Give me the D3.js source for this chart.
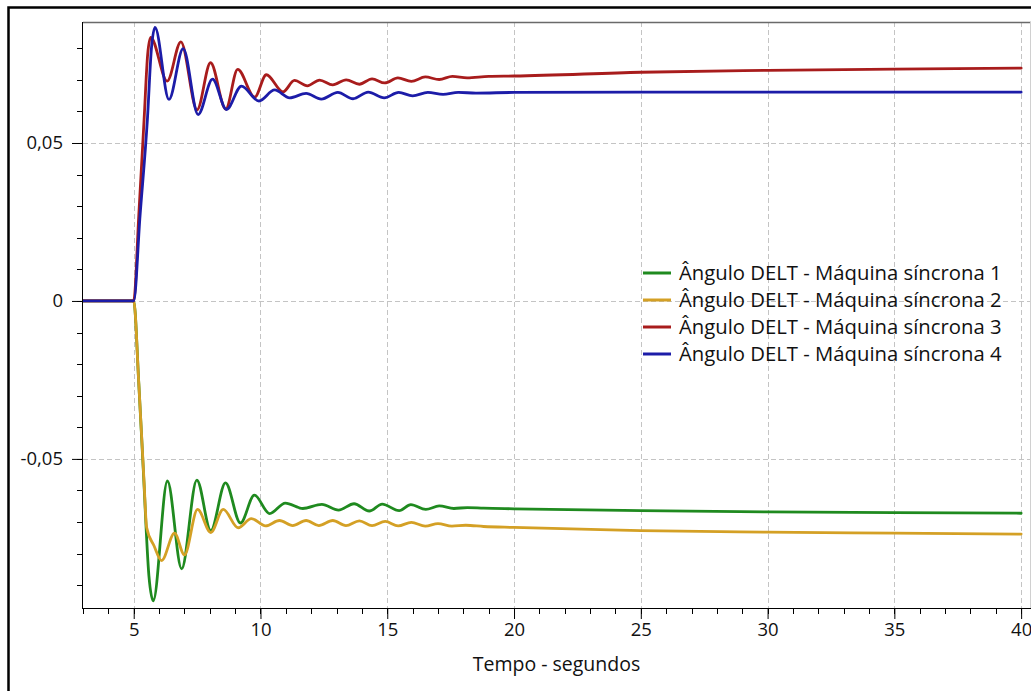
<!DOCTYPE html>
<html><head><meta charset="utf-8">
<script src="https://cdn.jsdelivr.net/npm/d3@7"></script>
<style>
html,body{margin:0;padding:0;background:#fff;}
svg{display:block;}
text{font-family:"Open Sans","Noto Sans",sans-serif;fill:#111;}
</style></head>
<body>
<svg id="chart" width="1031" height="691"></svg>
<script>
// ---------- DATA ----------
const xTickValues = [5, 10, 15, 20, 25, 30, 35, 40];
const xTickLabels = ["5", "10", "15", "20", "25", "30", "35", "40"];
const yTickValues = [-0.05, 0, 0.05];
const yTickLabels = ["-0,05", "0", "0,05"];
const xLabel = "Tempo - segundos";
const seriesNames = [
  "Ângulo DELT - Máquina síncrona 1",
  "Ângulo DELT - Máquina síncrona 2",
  "Ângulo DELT - Máquina síncrona 3",
  "Ângulo DELT - Máquina síncrona 4"
];
const seriesColors = ["#1f8a1f", "#d4a025", "#a81c1c", "#1c1ca8"];

// Máquina síncrona 1 (green)
const tMaq1 = [3, 5, 5.2, 5.38, 5.6, 5.77, 6.33, 6.89, 7.49, 8.04, 8.62, 9.21, 9.76, 10.36, 10.98, 11.67, 12.42, 13.08, 13.69, 14.29, 14.8, 15.47, 15.93, 16.52, 17.05, 17.63, 18.16, 18.8, 20, 25, 30, 35, 40];
const vMaq1 = [0, 0, -0.026, -0.0537, -0.087, -0.0949, -0.0570, -0.0848, -0.0567, -0.0727, -0.0576, -0.0703, -0.0615, -0.0673, -0.0640, -0.0657, -0.0644, -0.0662, -0.0642, -0.0665, -0.0643, -0.0664, -0.0645, -0.0660, -0.0649, -0.0657, -0.0654, -0.0656, -0.0658, -0.0664, -0.0668, -0.0670, -0.0672];

// Máquina síncrona 2 (gold)
const tMaq2 = [3, 5, 5.2, 5.4, 5.51, 5.8, 6.10, 6.61, 7.0, 7.52, 8.04, 8.53, 9.12, 9.64, 10.2, 10.75, 11.27, 11.8, 12.3, 12.85, 13.37, 13.9, 14.4, 14.92, 15.43, 15.95, 16.5, 17.0, 17.55, 18.1, 18.8, 20, 23.4, 25, 30, 35, 40];
const vMaq2 = [0, 0, -0.026, -0.056, -0.0717, -0.0775, -0.0822, -0.0735, -0.0804, -0.0660, -0.0733, -0.0660, -0.0718, -0.0689, -0.0712, -0.0695, -0.0711, -0.0695, -0.0711, -0.0695, -0.0711, -0.0696, -0.0711, -0.0698, -0.0712, -0.0701, -0.0713, -0.0705, -0.0713, -0.0710, -0.0714, -0.0717, -0.0724, -0.0727, -0.0732, -0.0735, -0.0738];

// Máquina síncrona 3 (red)
const tMaq3 = [3, 5, 5.2, 5.41, 5.55, 5.67, 6.32, 6.86, 7.5, 8.03, 8.63, 9.1, 9.77, 10.23, 10.89, 11.34, 11.85, 12.33, 12.85, 13.38, 13.9, 14.4, 14.9, 15.42, 15.95, 16.5, 17.05, 17.57, 18.15, 19, 20, 25, 30, 35, 40];
const vMaq3 = [0, 0, 0.027, 0.0575, 0.078, 0.0834, 0.0696, 0.0820, 0.0605, 0.0754, 0.0607, 0.0733, 0.0645, 0.0716, 0.0662, 0.0698, 0.0681, 0.0699, 0.0684, 0.0700, 0.0686, 0.0703, 0.0690, 0.0706, 0.0695, 0.0709, 0.0701, 0.0711, 0.0706, 0.0711, 0.0712, 0.0724, 0.0730, 0.0734, 0.0737];

// Máquina síncrona 4 (blue)
const tMaq4 = [3, 5, 5.25, 5.54, 5.7, 5.84, 6.39, 6.95, 7.54, 8.11, 8.66, 9.25, 9.94, 10.56, 11.15, 11.8, 12.4, 13.05, 13.65, 14.25, 14.88, 15.45, 16.0, 16.6, 17.2, 17.8, 18.5, 20, 25, 30, 35, 40];
const vMaq4 = [0, 0, 0.027, 0.0575, 0.080, 0.0866, 0.0638, 0.0799, 0.0590, 0.0702, 0.0606, 0.0680, 0.0633, 0.0668, 0.0643, 0.0657, 0.0639, 0.0660, 0.0640, 0.0661, 0.0643, 0.0660, 0.0649, 0.0660, 0.0654, 0.0660, 0.0658, 0.0660, 0.0661, 0.0661, 0.0661, 0.0661];

const seriesT = [tMaq1, tMaq2, tMaq3, tMaq4];
const seriesV = [vMaq1, vMaq2, vMaq3, vMaq4];

// ---------- LAYOUT ----------
const plot = {left: 83, right: 1030, top: 22, bottom: 608};
const svg = d3.select("#chart");
const FONT = "'Open Sans','Noto Sans',sans-serif";

const x = d3.scaleLinear().domain([3, 40.35]).range([plot.left, plot.right]);
const y = d3.scaleLinear().domain([-0.0972, 0.0883]).range([plot.bottom, plot.top]);

// outer frame
svg.append("rect").attr("x", 8.5).attr("y", 7.5).attr("width", 1040).attr("height", 700)
  .attr("fill", "#fff").attr("stroke", "#000").attr("stroke-width", 2.5);

// grid
const grid = svg.append("g").attr("stroke", "#c4c4c4").attr("stroke-width", 1).attr("stroke-dasharray", "5,3");
grid.selectAll(".gx").data(xTickValues).join("line")
  .attr("x1", d => Math.round(x(d)) + 0.5).attr("x2", d => Math.round(x(d)) + 0.5)
  .attr("y1", plot.top).attr("y2", plot.bottom);
grid.selectAll(".gy").data(yTickValues).join("line")
  .attr("y1", d => Math.round(y(d)) + 0.5).attr("y2", d => Math.round(y(d)) + 0.5)
  .attr("x1", plot.left).attr("x2", plot.right);

// plot frame: top (gray), right (light)
svg.append("line").attr("x1", plot.left).attr("x2", 1031).attr("y1", plot.top + 0.5).attr("y2", plot.top + 0.5)
  .attr("stroke", "#6a6a6a").attr("stroke-width", 1.5);
svg.append("line").attr("x1", plot.right + 0.5).attr("x2", plot.right + 0.5).attr("y1", plot.top).attr("y2", plot.bottom)
  .attr("stroke", "#d0d0d0").attr("stroke-width", 1);

// clip
svg.append("clipPath").attr("id", "clip").append("rect")
  .attr("x", plot.left).attr("y", plot.top).attr("width", plot.right - plot.left).attr("height", plot.bottom - plot.top);

// lines
const line = d3.line().x(d => x(d[0])).y(d => y(d[1])).curve(d3.curveMonotoneX);
const linesG = svg.append("g").attr("clip-path", "url(#clip)");
seriesT.forEach((ts, i) => {
  const pts = ts.map((t, k) => [t, seriesV[i][k]]);
  linesG.append("path").datum(pts).attr("d", line)
    .attr("fill", "none").attr("stroke", seriesColors[i]).attr("stroke-width", 2.8)
    .attr("stroke-linejoin", "round").attr("stroke-linecap", "round");
});

// x axis
const xMinor = d3.range(3, 41, 1);
const xAxis = d3.axisBottom(x).tickValues(xTickValues).tickFormat((d, i) => xTickLabels[i]).tickSize(11).tickPadding(4);
const gx = svg.append("g").attr("transform", `translate(0,${plot.bottom})`).call(xAxis);
gx.select(".domain").remove();
gx.selectAll(".tick line").attr("stroke", "#000");
gx.selectAll(".tick text").attr("font-size", 18.5).attr("font-family", FONT).attr("fill", "#111");
svg.append("line").attr("x1", plot.left).attr("x2", 1031).attr("y1", plot.bottom + 0.5).attr("y2", plot.bottom + 0.5)
  .attr("stroke", "#000").attr("stroke-width", 1);
svg.append("g").selectAll("line").data(xMinor).join("line")
  .attr("x1", d => Math.round(x(d)) + 0.5).attr("x2", d => Math.round(x(d)) + 0.5)
  .attr("y1", plot.bottom).attr("y2", plot.bottom + 6).attr("stroke", "#000");

// y axis
const yMinor = d3.range(-9, 9).map(k => k / 100);
const yAxis = d3.axisLeft(y).tickValues(yTickValues).tickFormat((d, i) => yTickLabels[i]).tickSize(11).tickPadding(9);
const gy = svg.append("g").attr("transform", `translate(${plot.left},0)`).call(yAxis);
gy.select(".domain").remove();
gy.selectAll(".tick line").attr("stroke", "#000");
gy.selectAll(".tick text").attr("font-size", 18.5).attr("font-family", FONT).attr("fill", "#111");
svg.append("line").attr("x1", plot.left - 0.5).attr("x2", plot.left - 0.5).attr("y1", plot.top).attr("y2", plot.bottom + 1)
  .attr("stroke", "#000").attr("stroke-width", 1);
svg.append("g").selectAll("line").data(yMinor).join("line")
  .attr("y1", d => Math.round(y(d)) + 0.5).attr("y2", d => Math.round(y(d)) + 0.5)
  .attr("x1", plot.left - 6).attr("x2", plot.left).attr("stroke", "#000");

// x label
svg.append("text").attr("x", (plot.left + plot.right) / 2).attr("y", 671)
  .attr("text-anchor", "middle").attr("font-size", 19.5).text(xLabel);

// legend
const leg = svg.append("g");
seriesNames.forEach((name, i) => {
  const yy = 273 + i * 27;
  leg.append("line").attr("x1", 643).attr("x2", 671).attr("y1", yy).attr("y2", yy)
    .attr("stroke", seriesColors[i]).attr("stroke-width", 3);
  leg.append("text").attr("x", 679).attr("y", yy + 7).attr("font-size", 20.3).text(name);
});
</script>
</body></html>
